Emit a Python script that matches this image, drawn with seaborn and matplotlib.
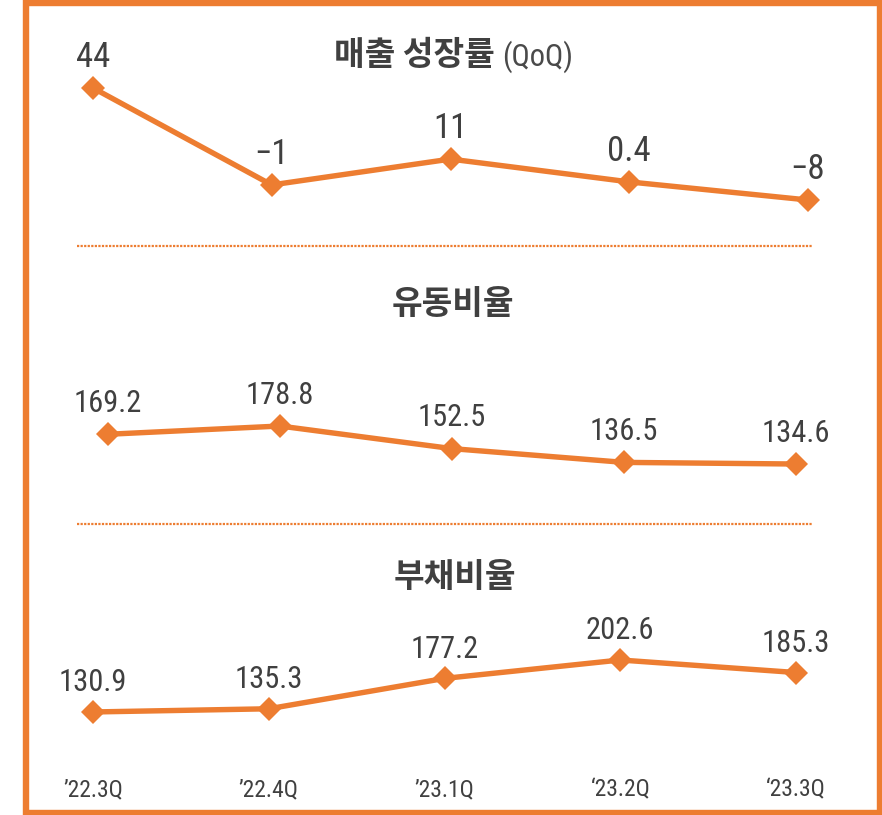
import matplotlib
matplotlib.use('Agg')
import matplotlib.pyplot as plt
import matplotlib.transforms as mtransforms
from matplotlib.lines import Line2D
from matplotlib.patches import Rectangle
import seaborn as sns
import pandas as pd

# ---- data ----
quarters = ["’22.3Q", "’22.4Q", "’23.1Q", "‘23.2Q", "‘23.3Q"]
sales_growth = [44, -1, 11, 0.4, -8]
current_ratio = [169.2, 178.8, 152.5, 136.5, 134.6]
debt_ratio = [130.9, 135.3, 177.2, 202.6, 185.3]
titles = ["매출 성장률", "유동비율", "부채비율"]
title_suffix = "(QoQ)"

ORANGE = "#ED7D31"
TEXT = "#404040"
W, H = 882, 815

sns.set_theme(style="white")
NARROW = ['Roboto Condensed', 'Liberation Sans Narrow', 'DejaVu Sans']
plt.rcParams['font.family'] = NARROW
plt.rcParams['font.stretch'] = 'condensed'
plt.rcParams['axes.unicode_minus'] = True

fig = plt.figure(figsize=(W / 100, H / 100), dpi=100)
fig.patch.set_facecolor("white")

KFONT = ['Noto Sans CJK KR', 'DejaVu Sans']

panels = [
    dict(values=sales_growth, fmt="{:g}", band=(0, 240), xlim=(-0.5203, 4.414),
         ylim=(-26.57, 84.85), fs=25, off=15),
    dict(values=current_ratio, fmt="{:.1f}", band=(250, 520), xlim=(-0.628, 4.5),
         ylim=(69.5, 383.5), fs=22, off=16),
    dict(values=debt_ratio, fmt="{:.1f}", band=(530, 815), xlim=(-0.529, 4.489),
         ylim=(-11.2, 381.9), fs=22, off=15),
]

axes = []
for p in panels:
    top, bottom = p["band"]
    ax = fig.add_axes([0, 1 - bottom / H, 1, (bottom - top) / H])
    ax.patch.set_alpha(0)
    df = pd.DataFrame({"q": quarters, "v": p["values"]})
    sns.lineplot(data=df, x="q", y="v", ax=ax, sort=False, color=ORANGE,
                 linewidth=3.9, marker="D", markersize=12, markeredgewidth=0,
                 solid_joinstyle="round")
    for q, v in zip(quarters, p["values"]):
        ax.annotate(p["fmt"].format(v).replace("-", "−"), (q, v),
                    xytext=(0, p["off"]), textcoords="offset points",
                    ha="center", va="baseline", fontsize=p["fs"], color=TEXT,
                    family=NARROW, fontstretch="condensed")
    ax.set_xlim(*p["xlim"])
    ax.set_ylim(*p["ylim"])
    ax.axis("off")
    axes.append(ax)

# titles
fig.text(495 / W, 1 - 56 / H, titles[0], ha="right", va="center", fontsize=24,
         fontweight="heavy", family=KFONT, color=TEXT)
fig.text(502 / W, 1 - 57 / H, title_suffix, ha="left", va="center", fontsize=22,
         family=NARROW, fontstretch="condensed", color="#4a4a4a")
fig.text(453 / W, 1 - 304 / H, titles[1], ha="center", va="center", fontsize=24,
         fontweight="heavy", family=KFONT, color=TEXT)
fig.text(455 / W, 1 - 578 / H, titles[2], ha="center", va="center", fontsize=24,
         fontweight="heavy", family=KFONT, color=TEXT)

# x labels under the last panel
trans = mtransforms.blended_transform_factory(axes[2].transData, fig.transFigure)
for q in quarters:
    axes[2].text(q, 1 - 790 / H, q, transform=trans, ha="center", va="center",
                 fontsize=17, color=TEXT, family=NARROW, fontstretch="condensed")

# dotted separators
for yy in (246, 524):
    fig.add_artist(Line2D([77 / W, 812 / W], [1 - yy / H, 1 - yy / H],
                          transform=fig.transFigure, color=ORANGE, lw=1.6,
                          linestyle=(0, (1, 0.6)), dash_capstyle="butt"))

# orange frame
fig.add_artist(Rectangle((26 / W, 2.5 / H), (879.5 - 26) / W, (812.5 - 2.5) / H,
                         transform=fig.transFigure, fill=False, edgecolor=ORANGE,
                         linewidth=4.6, zorder=10))

fig.savefig("out.png", dpi=100, facecolor="white")
